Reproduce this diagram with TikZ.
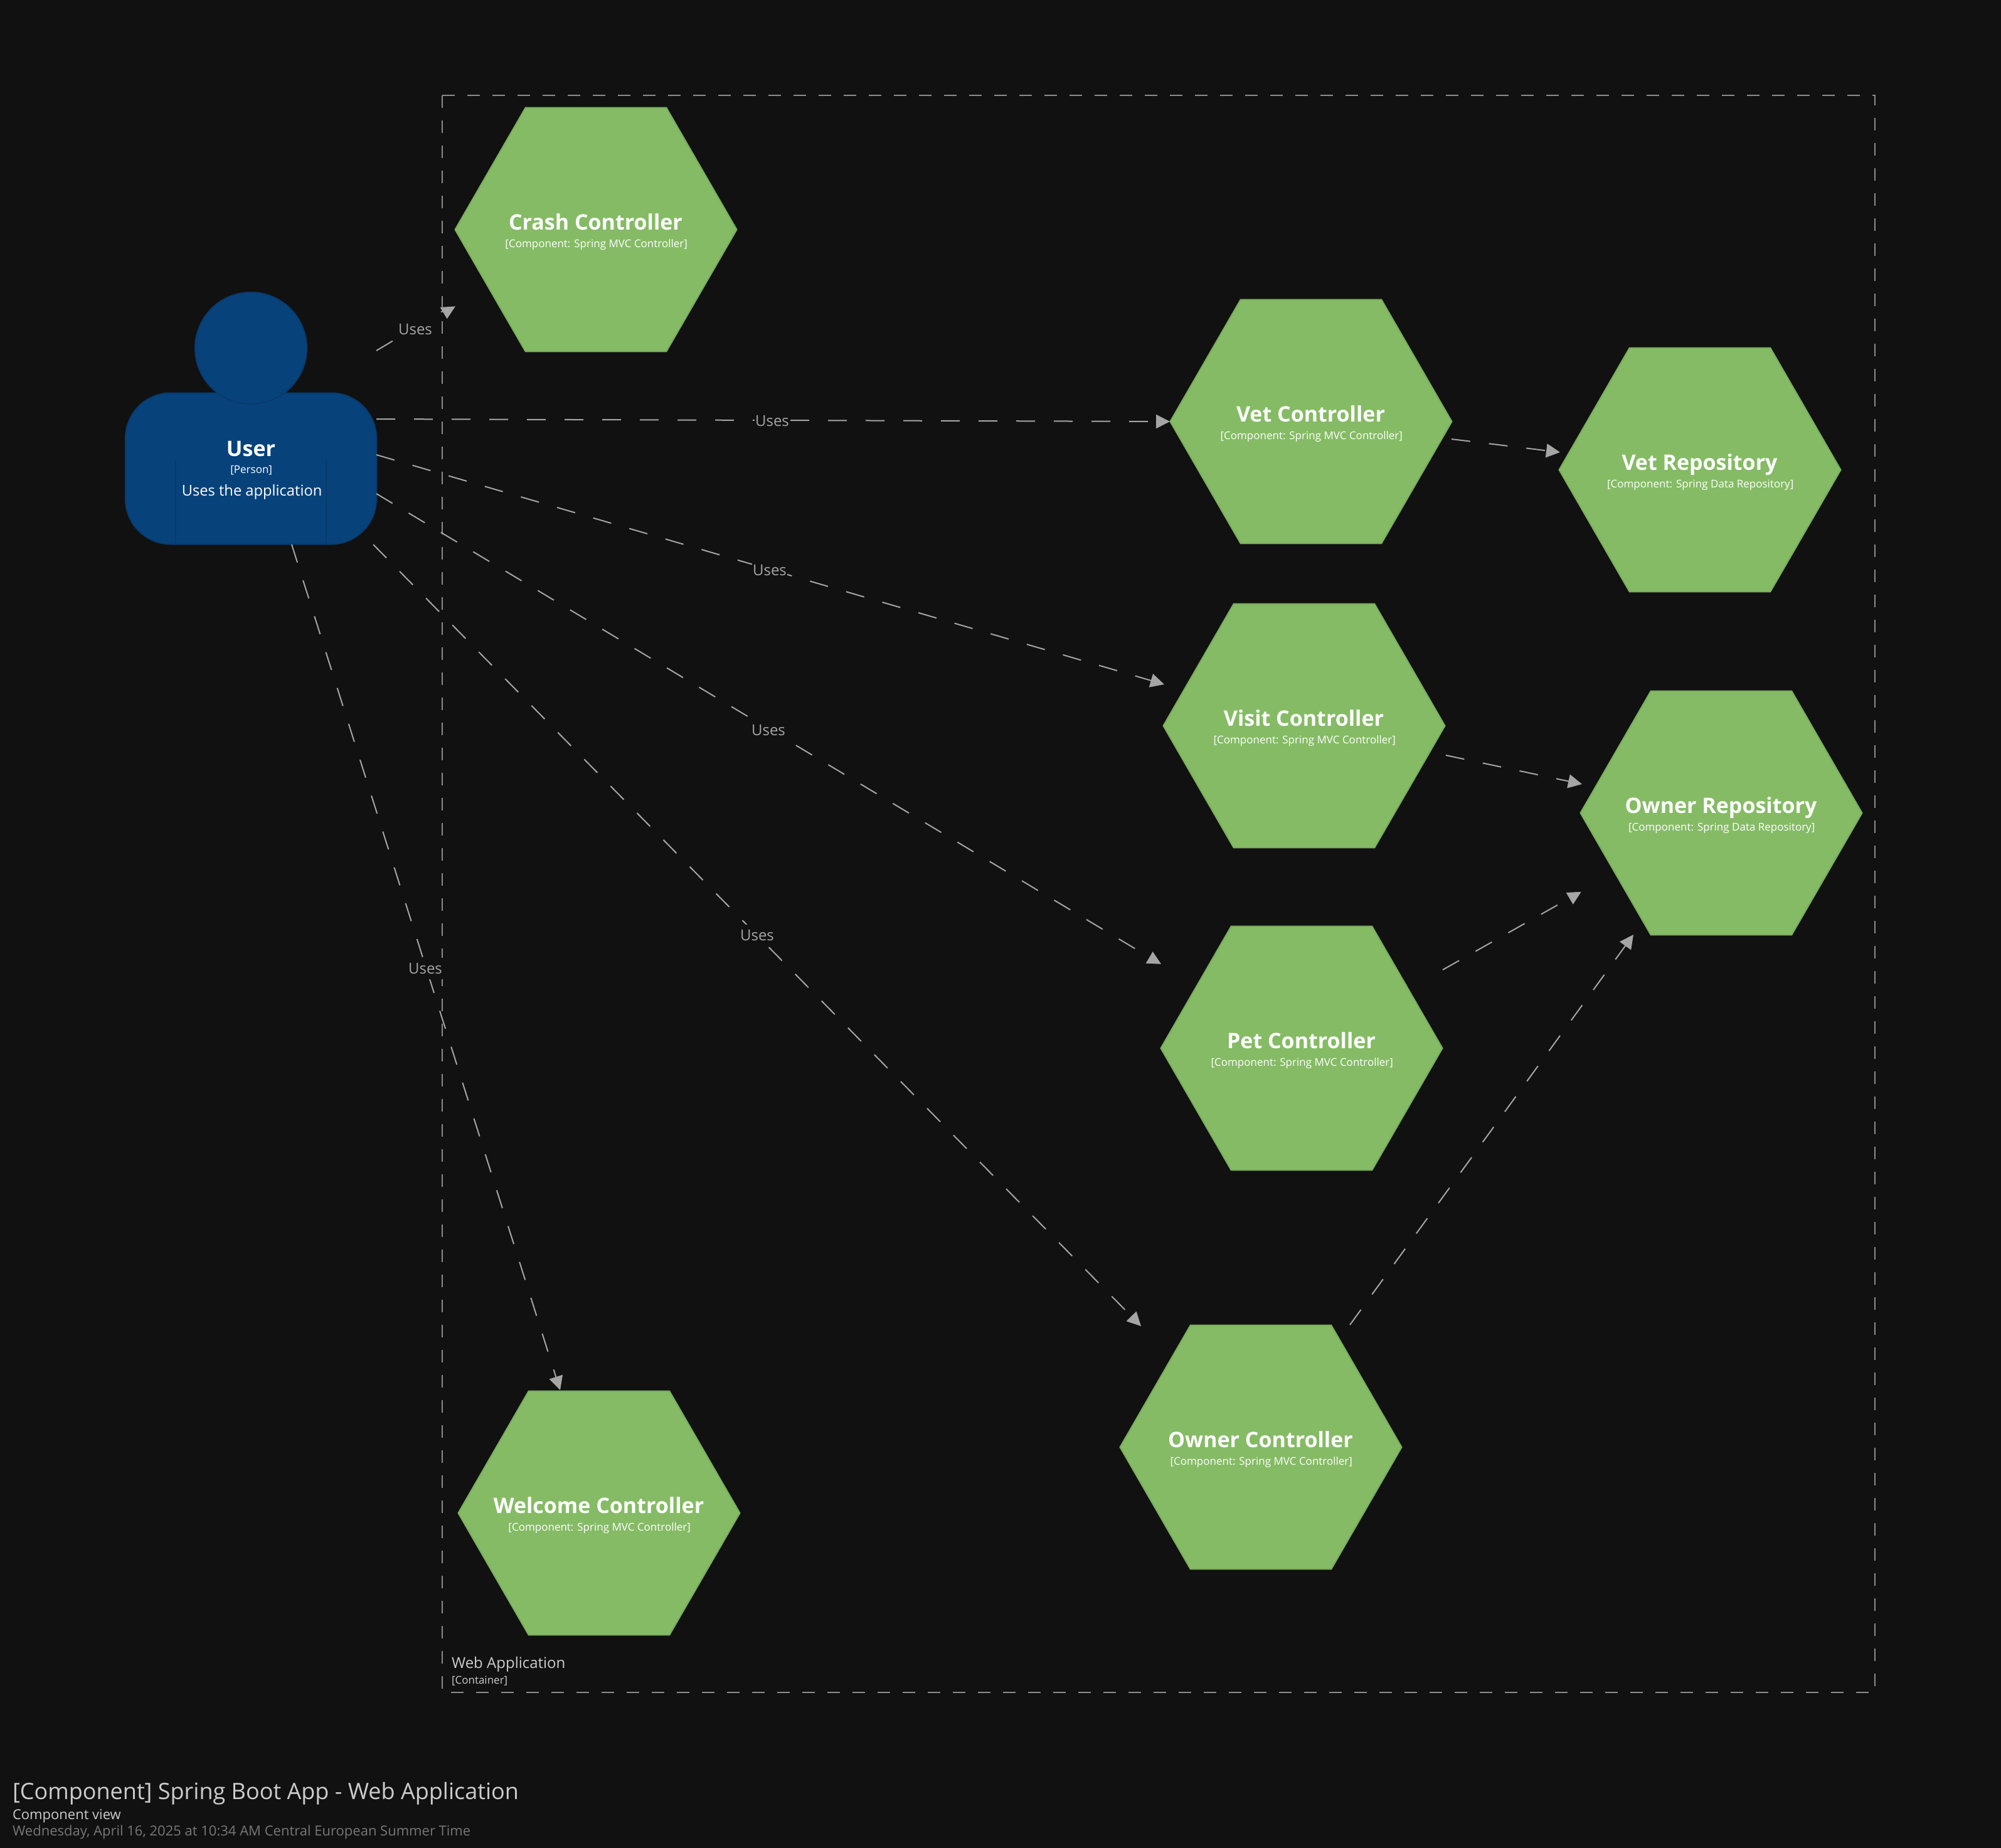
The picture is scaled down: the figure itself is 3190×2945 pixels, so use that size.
\documentclass[tikz,border=0pt]{standalone}
\usepackage{fontspec}
\setmainfont{Open Sans}
\usetikzlibrary{shapes.geometric,arrows.meta}
\definecolor{bgc}{HTML}{111111}
\definecolor{greenf}{HTML}{85BB65}
\definecolor{greenl}{HTML}{7AAD5D}
\definecolor{bluef}{HTML}{08427B}
\definecolor{bluel}{HTML}{073B6F}
\definecolor{linec}{HTML}{A5A5A5}
\definecolor{boundc}{HTML}{8C8C8C}
\definecolor{titlec}{HTML}{CCCCCC}
\definecolor{datec}{HTML}{777777}
\newcommand{\fs}[1]{\fontsize{#1}{#1}\selectfont}
\newcommand{\txl}[2]{\makebox[0pt]{\raisebox{#1}[0pt][0pt]{#2}}}
\newcommand{\hx}[2]{\txl{0pt}{\hspace*{-1pt}\fs{34}\bfseries #1}\txl{-28pt}{\hspace*{-3pt}\fs{17} #2}}
\tikzset{
  x=1pt,y=-1pt,
  hexa/.style={regular polygon,regular polygon sides=6,minimum size=449pt,inner sep=0pt,outer sep=0pt,fill=greenf,draw=greenl,line width=2pt,text=white},
  body/.style={rectangle,rounded corners=72pt,minimum width=400pt,minimum height=241pt,inner sep=0pt,outer sep=0pt,fill=bluef,draw=bluel,line width=2pt,text=white},
  head/.style={circle,minimum size=178pt,inner sep=0pt,outer sep=0pt,fill=bluef,draw=bluel,line width=2pt},
  shaft/.style={line width=2pt,draw=linec,dash pattern=on 30pt off 30pt},
  uses/.style={shaft,-{Triangle[length=22pt,width=22pt,fill=linec]}},
  headtip/.style={fill=linec},
  lbl/.style={fill=bgc,text=linec,font=\fs{24},inner xsep=1pt,inner ysep=0pt,minimum height=34pt,outer sep=0pt},
  bnd/.style={line width=2pt,draw=boundc,dash pattern=on 20pt off 20pt},
  plain/.style={inner sep=0pt,outer sep=0pt,anchor=base west},
}
\begin{document}
\begin{tikzpicture}
\useasboundingbox (0,0) rectangle (3190,2945);
\fill[bgc] (-5,-5) rectangle (3195,2950);
% boundary
\node[minimum width=2284pt,minimum height=2546pt,inner sep=0pt,outer sep=0pt] (web) at (1847,1425) {};
\draw[bnd] (web.north west) -- (web.south west) -- (web.south east) -- (web.north east) -- cycle;
\node[plain,text=titlec,font=\fs{24}] (webn) at (720,2659) {Web Application};
\node[plain,text=titlec,font=\fs{17}] (webt) at (720,2684) {[Container]};
% person
\node[body] (user) at (400,747) {\txl{20pt}{\fs{34}\bfseries User}\txl{-7pt}{\hspace*{-3pt}\fs{17} [Person]}\txl{-43pt}{\hspace*{-3pt}\fs{23.7} Uses the application}};
\node[head] (userh) at (400,555) {};
\coordinate (il1) at (280,733); \coordinate (il1b) at (280,867);
\coordinate (il2) at (520,733); \coordinate (il2b) at (520,867);
\draw[bluel,line width=1.5pt] (il1) -- (il1b) (il2) -- (il2b);
% hexagons
\node[hexa] (crash) at (950,366) {\hx{Crash Controller}{[Component: Spring MVC Controller]}};
\node[hexa] (vet) at (2090,672) {\hx{Vet Controller}{[Component: Spring MVC Controller]}};
\node[hexa] (vetr) at (2710,749) {\hx{Vet Repository}{[Component: Spring Data Repository]}};
\node[hexa] (visit) at (2079,1157) {\hx{Visit Controller}{[Component: Spring MVC Controller]}};
\node[hexa] (ownr) at (2744,1296) {\hx{Owner Repository}{[Component: Spring Data Repository]}};
\node[hexa] (pet) at (2075,1671) {\hx{Pet Controller}{[Component: Spring MVC Controller]}};
\node[hexa] (ownc) at (2010,2307) {\hx{Owner Controller}{[Component: Spring MVC Controller]}};
\node[hexa] (welc) at (955,2412) {\hx{Welcome Controller}{[Component: Spring MVC Controller]}};
% connector end points
\coordinate (s1) at (600,559); \coordinate (m1) at (714,491);
\coordinate (a1) at (701.7,490); \coordinate (b1) at (726,488.3); \coordinate (e1) at (712.7,508.3);
\coordinate (s2) at (600,668); \coordinate (e2) at (1865,672);
\coordinate (s3) at (600,725); \coordinate (e3) at (1856,1091);
\coordinate (s4) at (600,787); \coordinate (m4) at (1839,1530);
\coordinate (a4) at (1826.7,1535.7); \coordinate (b4) at (1851,1536.8); \coordinate (e4) at (1837.7,1517);
\coordinate (s5) at (595,868); \coordinate (e5) at (1819,2114);
\coordinate (s6) at (465,868); \coordinate (e6) at (893,2216);
\coordinate (s7) at (2314,700); \coordinate (e7) at (2487,721);
\coordinate (s8) at (2305,1204); \coordinate (e8) at (2522,1250);
\coordinate (s9) at (2300,1546); \coordinate (m9) at (2509,1428);
\coordinate (a9) at (2496.7,1423); \coordinate (b9) at (2520.7,1421.7); \coordinate (e9) at (2507.7,1441.7);
\coordinate (s10) at (2152,2112); \coordinate (e10) at (2604,1490);
\draw[shaft] (s1) -- (m1);
\fill[headtip] (a1) -- (b1) -- (e1) -- cycle;
\draw[uses] (s2) -- (e2);
\draw[uses] (s3) -- (e3);
\draw[shaft] (s4) -- (m4);
\fill[headtip] (a4) -- (b4) -- (e4) -- cycle;
\draw[uses] (s5) -- (e5);
\draw[uses] (s6) -- (e6);
\draw[uses] (s7) -- (e7);
\draw[uses] (s8) -- (e8);
\draw[shaft] (s9) -- (m9);
\fill[headtip] (a9) -- (b9) -- (e9) -- cycle;
\draw[uses] (s10) -- (e10);
% labels
\node[lbl] (l1) at (662,525) {Uses};
\node[lbl] (l2) at (1231,671) {Uses};
\node[lbl] (l3) at (1227,909) {Uses};
\node[lbl] (l4) at (1225,1164) {Uses};
\node[lbl] (l5) at (1207,1491) {Uses};
\node[lbl] (l6) at (678,1544) {Uses};
% title
\node[plain,text=titlec,font=\fs{36}] (t1) at (20,2868) {[Component] Spring Boot App - Web Application};
\node[plain,text=titlec,font=\fs{22}] (t2) at (20,2900) {Component view};
\node[plain,text=datec,font=\fs{22}] (t3) at (20,2926) {Wednesday, April 16, 2025 at 10:34 AM Central European Summer Time};
\end{tikzpicture}
\end{document}
